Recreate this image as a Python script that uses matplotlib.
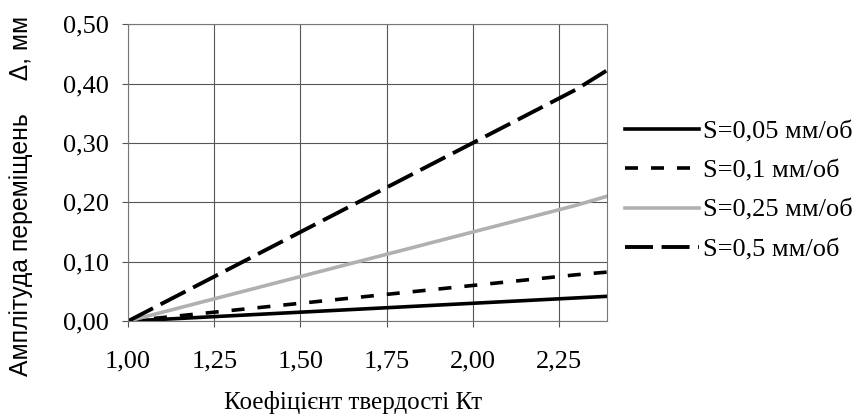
import matplotlib.pyplot as plt

plt.rcParams['font.family'] = ['Liberation Serif', 'DejaVu Serif']

# Hardness coefficient values
kt = [1.0, 1.1, 1.2, 1.3, 1.4, 1.5, 1.6, 1.7, 1.8, 1.9, 2.0, 2.1, 2.2, 2.3, 2.4]

# Displacement amplitude, mm, for each feed
s005 = [0.0, 0.003, 0.006, 0.009, 0.012, 0.015, 0.018, 0.021, 0.024, 0.027, 0.030, 0.033, 0.036, 0.039, 0.042]
s01 = [0.0, 0.006, 0.012, 0.018, 0.024, 0.030, 0.036, 0.042, 0.048, 0.054, 0.060, 0.066, 0.072, 0.078, 0.083]
s025 = [0.0, 0.015, 0.030, 0.045, 0.060, 0.075, 0.090, 0.105, 0.120, 0.135, 0.150, 0.165, 0.180, 0.195, 0.212]
s05 = [0.0, 0.030, 0.060, 0.090, 0.120, 0.150, 0.180, 0.210, 0.240, 0.270, 0.300, 0.330, 0.360, 0.390, 0.426]

labels = ['S=0,05 мм/об', 'S=0,1 мм/об', 'S=0,25 мм/об', 'S=0,5 мм/об']
x_ticks = [1.00, 1.25, 1.50, 1.75, 2.00, 2.25]
y_ticks = [0.0, 0.1, 0.2, 0.3, 0.4, 0.5]

fs = 19

fig = plt.figure(figsize=(8.6, 4.17), dpi=100)
ax = fig.add_axes([0.149, 0.23, 0.557, 0.712])

ax.plot(kt, s005, color='black', linewidth=2.6, label=labels[0])
ax.plot(kt, s01, color='black', linewidth=2.6, linestyle=(0, (3.6, 3.6)), label=labels[1])
ax.plot(kt, s025, color='#b0b0b0', linewidth=2.6, label=labels[2])
ax.plot(kt, s05, color='black', linewidth=2.8, linestyle=(0, (7.2, 2.2)), label=labels[3])

ax.set_xlim(1.0, 2.39)
ax.set_ylim(0.0, 0.5)
ax.set_xticks(x_ticks)
ax.set_yticks(y_ticks)
ax.set_xticklabels([f'{v:.2f}'.replace('.', ',') for v in x_ticks])
ax.set_yticklabels([f'{v:.2f}'.replace('.', ',') for v in y_ticks])
ax.tick_params(labelsize=fs, length=4, color='#555555')
ax.tick_params(axis='x', pad=17)
ax.tick_params(axis='y', pad=10)

ax.grid(True, color='#555555', linewidth=0.8)
for sp in ax.spines.values():
    sp.set_color('#777777')
    sp.set_linewidth(0.8)

ax.set_xlabel('Коефіцієнт твердості Кт', fontsize=18)
ax.set_ylabel('Амплітуда переміщень     Δ, мм', fontsize=17.8,
              family=['Liberation Sans', 'DejaVu Sans'])
ax.xaxis.set_label_coords(0.47, -0.235)
ax.yaxis.set_label_coords(-0.198, 0.42)

ax.legend(loc='center left', bbox_to_anchor=(1.015, 0.44), frameon=False,
          fontsize=fs, handlelength=2.8, handletextpad=0.15, labelspacing=0.6,
          borderaxespad=0)

fig.savefig('out.png', dpi=100)
plt.close(fig)
